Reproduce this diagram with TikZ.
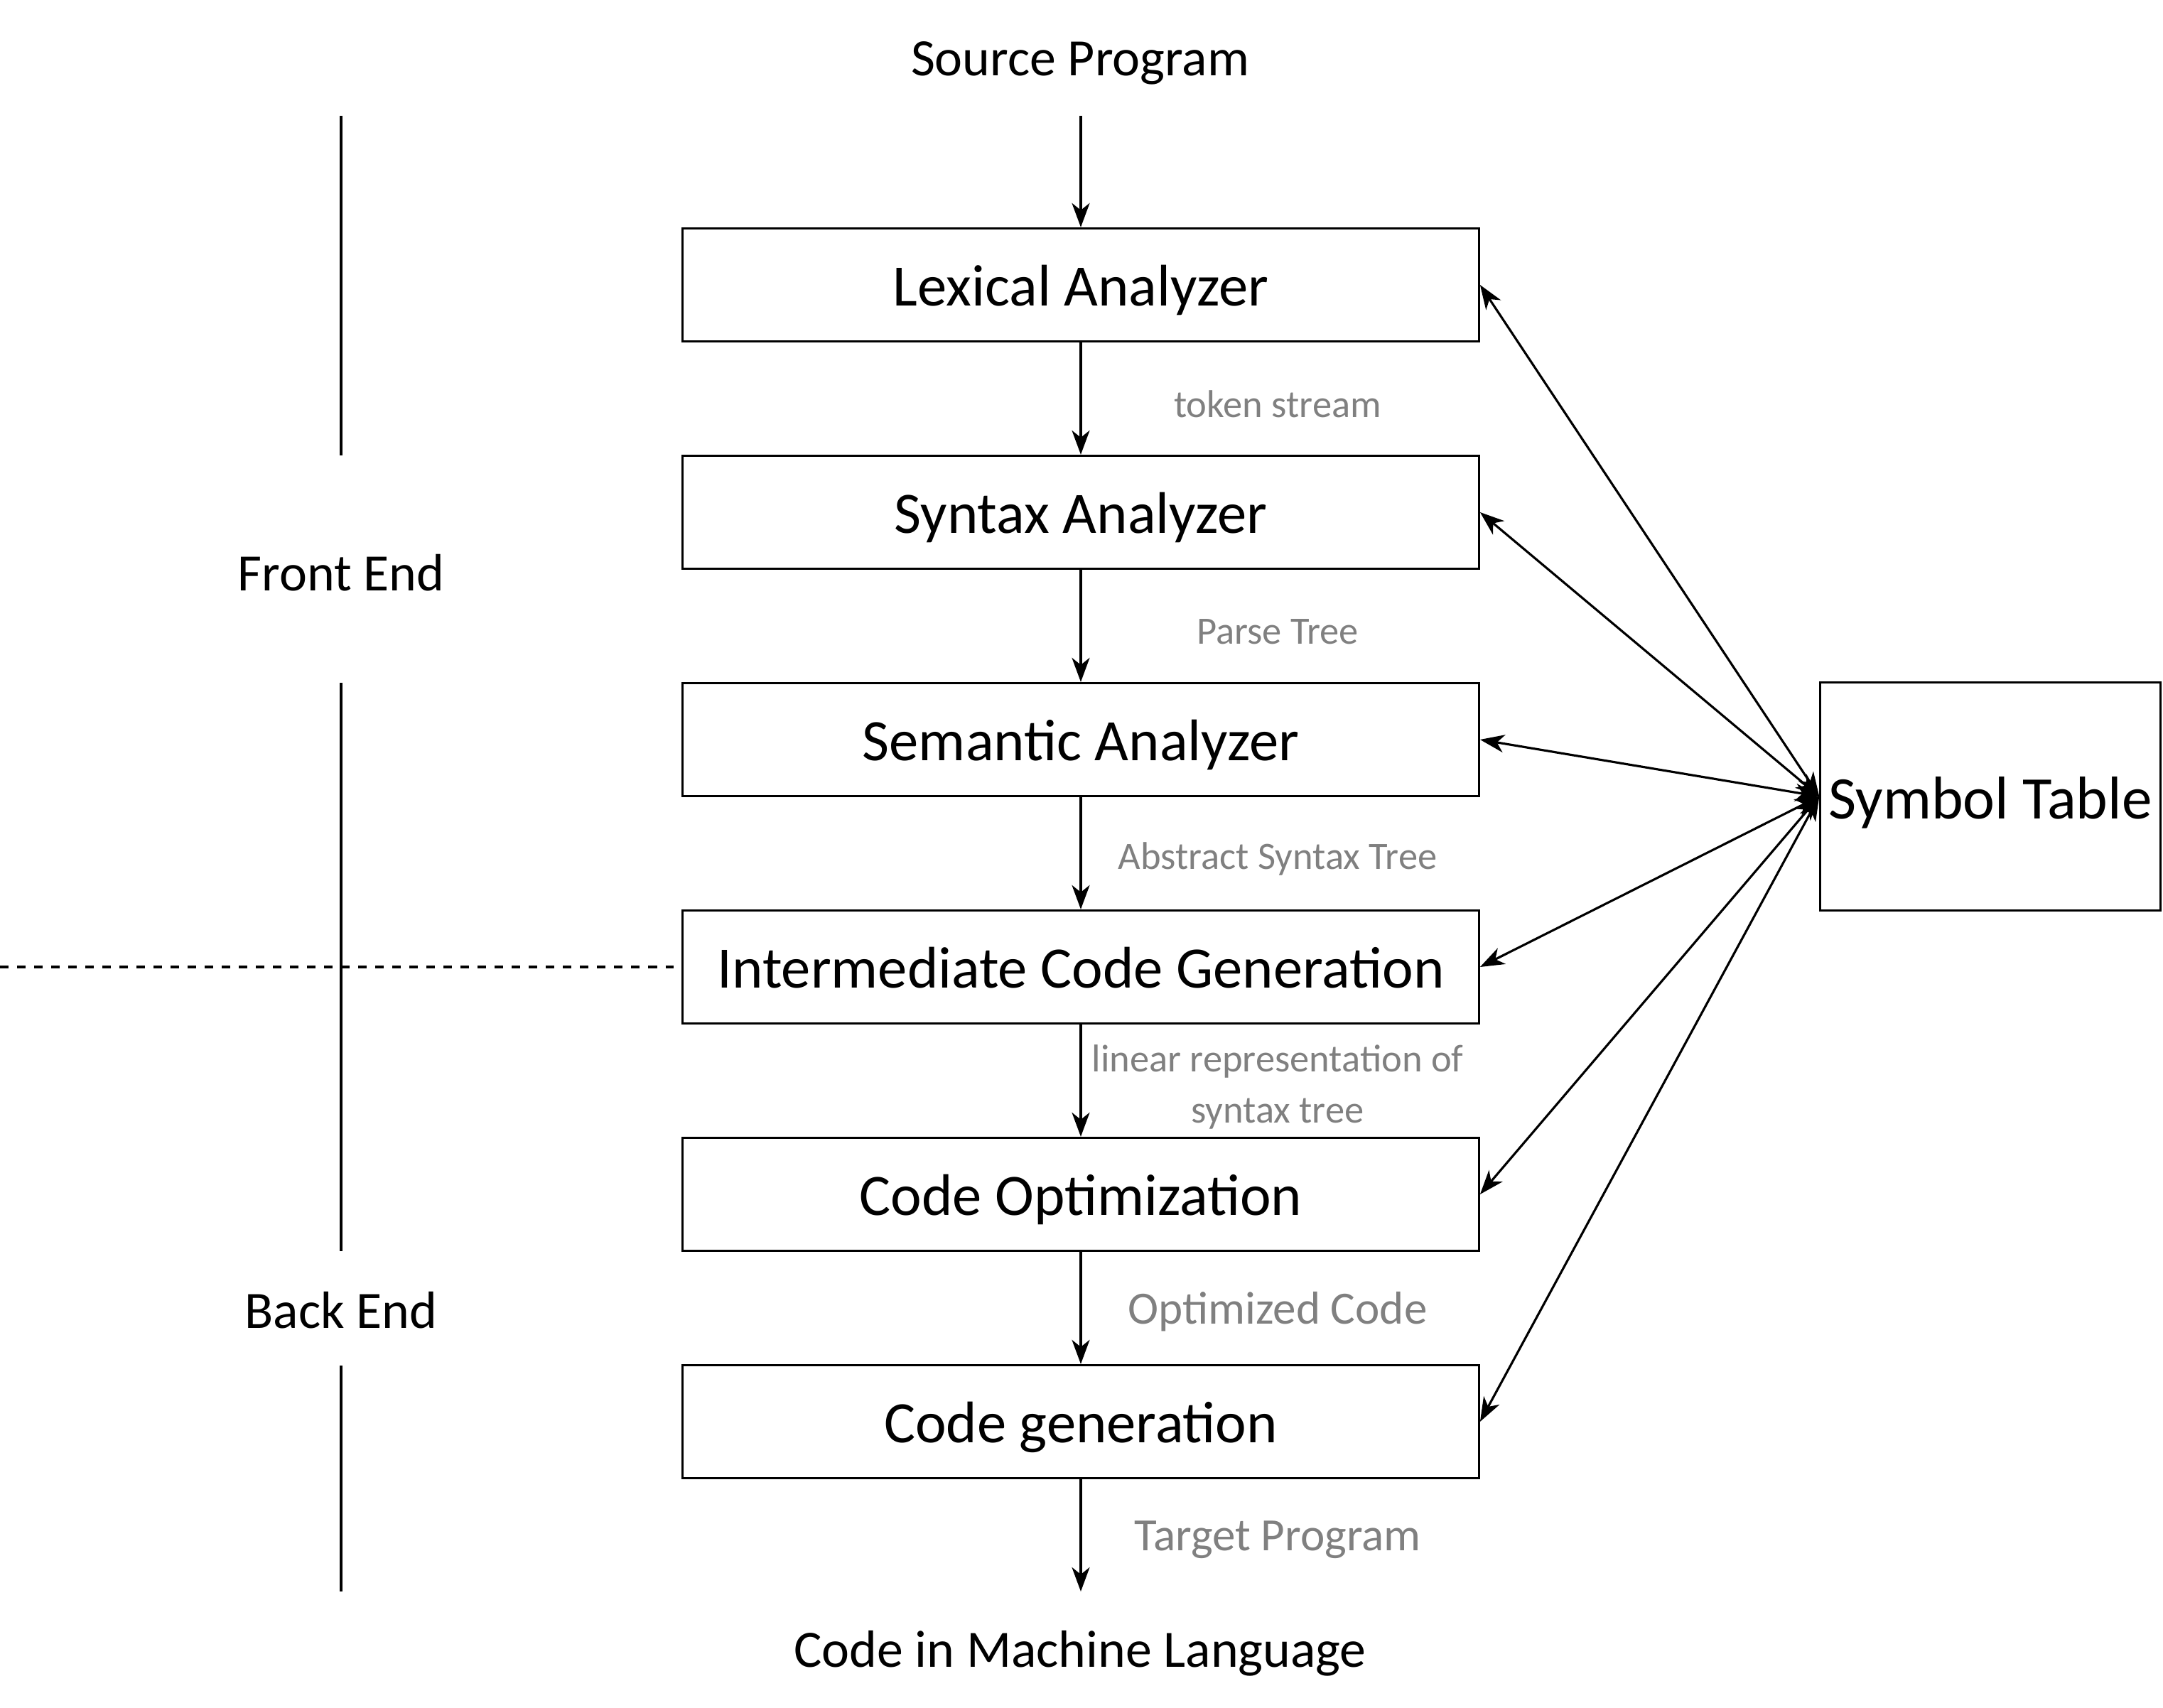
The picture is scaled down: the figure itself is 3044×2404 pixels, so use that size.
\documentclass[tikz,border=0pt]{standalone}
\usepackage{fontspec}
\setmainfont{Carlito}
\usetikzlibrary{arrows.meta}
\definecolor{lblgray}{HTML}{808080}
\begin{document}
\begin{tikzpicture}[x=0.01cm,y=-0.01cm,
  line width=0.9pt,
  stage/.style={draw, minimum width=11.2cm, minimum height=1.59cm, inner sep=0pt,
    text height=17pt, text depth=0pt,
    font=\fontsize{23.5}{28}\selectfont},
  symtab/.style={draw, minimum width=4.78cm, minimum height=3.2cm, inner sep=0pt,
    text height=18pt, text depth=0pt,
    font=\fontsize{24.2}{28}\selectfont},
  plain/.style={inner sep=0pt, font=\fontsize{21}{24}\selectfont},
  edgelbl/.style={inner sep=0pt, text=lblgray, align=center, font=\fontsize{15.5}{20.5}\selectfont},
  edgelblbig/.style={inner sep=0pt, text=lblgray, font=\fontsize{18.5}{22}\selectfont},
  flow/.style={-{Stealth[length=0.34cm, width=0.25cm, inset=0.1cm]}},
  both/.style={{Stealth[length=0.34cm, width=0.25cm, inset=0.1cm]}-{Stealth[length=0.34cm, width=0.25cm, inset=0.1cm]}},
  divider/.style={line width=0.9pt},
  dashline/.style={dash pattern=on 0.12cm off 0.12cm}
]
\useasboundingbox (0,0) rectangle (3044,2404);

% stages
\node[stage] (lex) at (1521,401) {Lexical Analyzer};
\node[stage] (syn) at (1521,721) {Syntax Analyzer};
\node[stage] (sem) at (1521,1041) {Semantic Analyzer};
\node[stage] (icg) at (1521,1361) {Intermediate Code Generation};
\node[stage] (opt) at (1521,1681) {Code Optimization};
\node[stage] (gen) at (1521,2001) {Code generation};
\node[symtab] (st) at (2801,1121) {Symbol Table};

% input / output texts
\node[plain] (src) at (1520,89) {Source Program};
\node[plain] (mach) at (1520,2327) {Code in Machine Language};
\coordinate (srcend) at (1521,163);
\coordinate (tgtend) at (1521,2240);

% flow arrows
\draw[flow] (srcend) -- (lex.north);
\draw[flow] (lex.south) -- (syn.north);
\draw[flow] (syn.south) -- (sem.north);
\draw[flow] (sem.south) -- (icg.north);
\draw[flow] (icg.south) -- (opt.north);
\draw[flow] (opt.south) -- (gen.north);
\draw[flow] (gen.south) -- (tgtend);

% edge labels
\node[edgelbl] (l1) at (1798,569) {token stream};
\node[edgelbl] (l2) at (1798,889) {Parse Tree};
\node[edgelbl] (l3) at (1798,1209) {Abstract Syntax Tree};
\node[edgelbl] (l4) at (1798,1530) {linear representation of\\syntax tree};
\node[edgelblbig] (l5) at (1798,1846) {Optimized Code};
\node[edgelblbig] (l6) at (1798,2167) {Target Program};

% symbol table connectors
\foreach \n in {lex,syn,sem,icg,opt,gen}
  \draw[both] (st.west) -- (\n.east);

% front end / back end
\node[plain] (fe) at (480,806) {Front End};
\node[plain] (be) at (480,1844) {Back End};
\coordinate (d1a) at (480,163);
\coordinate (d1b) at (480,641);
\coordinate (d2a) at (480,961);
\coordinate (d2b) at (480,1761);
\coordinate (d3a) at (480,1922);
\coordinate (d3b) at (480,2240);
\draw[divider] (d1a) -- (d1b);
\draw[divider] (d2a) -- (d2b);
\draw[divider] (d3a) -- (d3b);

% dashed separator
\coordinate (dashstart) at (0,1361);
\draw[dashline] (dashstart) -- ([xshift=-0.11cm]icg.west);
\end{tikzpicture}
\end{document}
